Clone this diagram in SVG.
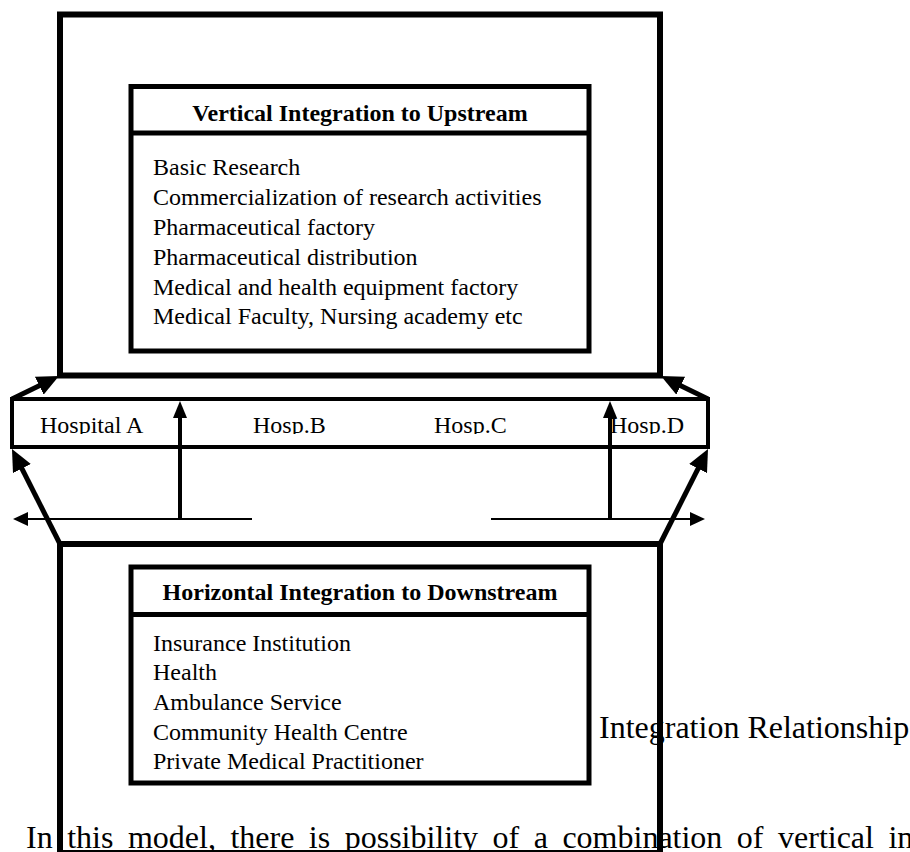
<svg xmlns="http://www.w3.org/2000/svg" width="910" height="852" viewBox="0 0 910 852">
<style>
  .frame { fill: none; stroke: #000; stroke-width: 6; }
  .inner { fill: #fff; stroke: #000; stroke-width: 5; }
  .div { stroke: #000; stroke-width: 5; }
  .band { fill: #fff; stroke: #000; stroke-width: 4; }
  .t { font-family: "Liberation Serif", "Times New Roman", serif; font-size: 24px; fill: #000; }
  .title { font-family: "Liberation Serif", "Times New Roman", serif; font-size: 24px; font-weight: bold; fill: #000; text-anchor: middle; }
  .big { font-family: "Liberation Serif", "Times New Roman", serif; font-size: 32px; fill: #000; }
  .thick { stroke: #000; stroke-width: 5; fill: none; }
  .mid { stroke: #000; stroke-width: 4; fill: none; }
  .thin { stroke: #000; stroke-width: 2; fill: none; }
</style>
<defs>
  <marker id="headThick" markerUnits="userSpaceOnUse" viewBox="0 0 22 20" markerWidth="22" markerHeight="20" refX="12" refY="10" orient="auto">
    <path d="M0,0 L22,10 L0,20 z" fill="#000"/>
  </marker>
  <marker id="headMid" markerUnits="userSpaceOnUse" viewBox="0 0 17 14" markerWidth="17" markerHeight="14" refX="9" refY="7" orient="auto">
    <path d="M0,0 L17,7 L0,14 z" fill="#000"/>
  </marker>
  <marker id="headThin" markerUnits="userSpaceOnUse" viewBox="0 0 15 14" markerWidth="15" markerHeight="14" refX="7" refY="7" orient="auto">
    <path d="M0,0 L15,7 L0,14 z" fill="#000"/>
  </marker>
  <clipPath id="bandClip">
    <rect x="14" y="401" width="692" height="33"/>
  </clipPath>
</defs>
<rect width="910" height="852" fill="#fff"/>

<g id="upstream-frame">
  <rect class="frame" x="60" y="14.5" width="600" height="361"/>
</g>

<g id="upstream-box">
  <rect class="inner" x="131" y="86.5" width="458" height="264.5"/>
  <line class="div" x1="131" y1="133" x2="589" y2="133"/>
  <text class="title" x="360" y="121">Vertical Integration to Upstream</text>
  <text class="t" x="153" y="175">Basic Research</text>
  <text class="t" x="153" y="205">Commercialization of research activities</text>
  <text class="t" x="153" y="235">Pharmaceutical factory</text>
  <text class="t" x="153" y="265">Pharmaceutical distribution</text>
  <text class="t" x="153" y="295">Medical and health equipment factory</text>
  <text class="t" x="153" y="324">Medical Faculty, Nursing academy etc</text>
</g>

<g id="hospitals">
  <rect class="band" x="12" y="399" width="696" height="48"/>
  <g clip-path="url(#bandClip)">
    <text class="t" x="40" y="433">Hospital A</text>
    <text class="t" x="253" y="433">Hosp.B</text>
    <text class="t" x="434" y="433">Hosp.C</text>
    <text class="t" x="610" y="433">Hosp.D</text>
  </g>
</g>

<g id="downstream-box">
  <rect class="inner" x="131" y="567" width="458" height="216"/>
  <line class="div" x1="131" y1="614.5" x2="589" y2="614.5"/>
  <text class="title" x="360" y="600">Horizontal Integration to Downstream</text>
  <text class="t" x="153" y="651">Insurance Institution</text>
  <text class="t" x="153" y="680">Health</text>
  <text class="t" x="153" y="710">Ambulance Service</text>
  <text class="t" x="153" y="740">Community Health Centre</text>
  <text class="t" x="153" y="769">Private Medical Practitioner</text>
</g>

<g id="caption">
  <text class="big" x="599" y="738">Integration Relationship</text>
</g>

<g id="body-text">
  <text class="big" x="26" y="848" word-spacing="6.5">In this model, there is possibility of a combination of vertical int</text>
</g>

<g id="downstream-frame">
  <rect class="frame" x="60" y="544" width="600" height="309"/>
</g>

<g id="connectors">
  <line class="thick" x1="12" y1="399" x2="50" y2="380.4" marker-end="url(#headThick)"/>
  <line class="thick" x1="708" y1="399" x2="670" y2="380.4" marker-end="url(#headThick)"/>
  <line class="thick" x1="60" y1="544" x2="16.5" y2="457.9" marker-end="url(#headThick)"/>
  <line class="thick" x1="660" y1="544" x2="703.5" y2="457.9" marker-end="url(#headThick)"/>
  <line class="mid" x1="180" y1="519" x2="180" y2="409" marker-end="url(#headMid)"/>
  <line class="mid" x1="610" y1="519" x2="610" y2="409" marker-end="url(#headMid)"/>
  <line class="thin" x1="252" y1="519" x2="21" y2="519" marker-end="url(#headThin)"/>
  <line class="thin" x1="491" y1="519" x2="697" y2="519" marker-end="url(#headThin)"/>
</g>
</svg>
